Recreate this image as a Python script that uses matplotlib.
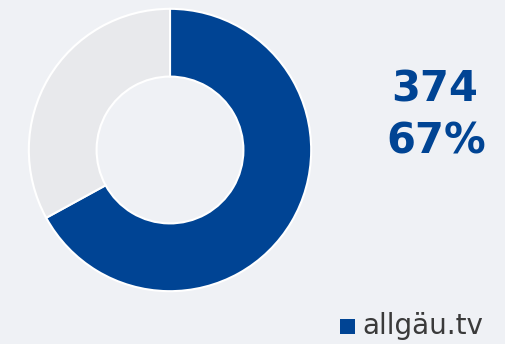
import matplotlib
matplotlib.use('Agg')
import matplotlib.pyplot as plt

labels = ['allgäu.tv', 'other']
values = [374, 184]
colors = ['#004494', '#e8e9ec']
bg = '#eff1f5'

total = sum(values)
share = values[0] / total * 100

fig = plt.figure(figsize=(5.05, 3.44), dpi=100)
fig.patch.set_facecolor(bg)

W, H = 505, 344
cx, cy, r = 170, 150, 144
ax = fig.add_axes([(cx - r) / W, (H - cy - r) / H, 2 * r / W, 2 * r / H])
ax.set_facecolor(bg)
wedges, _ = ax.pie(values, colors=colors, startangle=90, counterclock=False,
                   radius=1, wedgeprops=dict(width=0.48, edgecolor='white', linewidth=1.5))
ax.set_xlim(-1.02, 1.02)
ax.set_ylim(-1.02, 1.02)
ax.set_aspect('equal')
ax.axis('off')

fig.text(435 / W, 1 - 90 / H, f'{values[0]}', ha='center', va='center',
         fontsize=30, fontweight='bold', color=colors[0], family='DejaVu Sans')
fig.text(436 / W, 1 - 141 / H, f'{share:.0f}%', ha='center', va='center',
         fontsize=30, fontweight='bold', color=colors[0], family='DejaVu Sans')

# legend entry
fig.patches.append(plt.Rectangle((340 / W, 1 - 334 / H), 15 / W, 15 / H,
                                 transform=fig.transFigure, facecolor=colors[0],
                                 edgecolor='none'))
fig.text(362 / W, 1 - 326 / H, labels[0], ha='left', va='center',
         fontsize=20, color='#3a3a3a', family='DejaVu Sans')

fig.savefig('out.png', dpi=100, facecolor=bg)
